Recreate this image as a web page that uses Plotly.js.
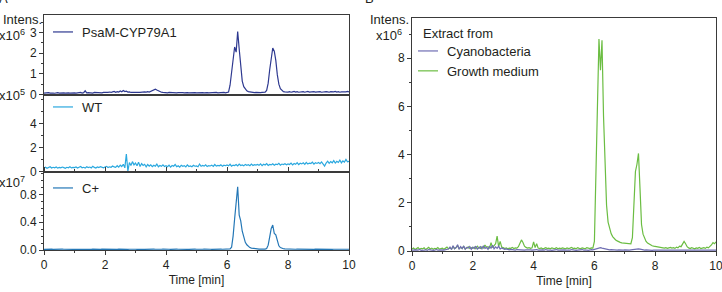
<!DOCTYPE html>
<html>
<head>
<meta charset="utf-8">
<script src="https://cdn.plot.ly/plotly-3.0.1.min.js"></script>
<style>html,body{margin:0;padding:0;background:#fff;}#chart{width:722px;height:292px;}</style>
</head>
<body>
<div id="chart"></div>
<script>
// Retention time [min]
const time = [
0,0.05,0.1,0.15,0.2,0.25,0.3,0.35,0.4,0.45,0.5,0.55,0.6,0.65,0.7,0.75,0.8,0.85,0.9,0.95,
1,1.05,1.1,1.15,1.2,1.25,1.3,1.35,1.4,1.45,1.5,1.55,1.6,1.65,1.7,1.75,1.8,1.85,1.9,1.95,
2,2.05,2.1,2.15,2.2,2.25,2.3,2.35,2.4,2.45,2.5,2.55,2.6,2.65,2.7,2.75,2.8,2.85,2.9,2.95,
3,3.05,3.1,3.15,3.2,3.25,3.3,3.35,3.4,3.45,3.5,3.55,3.6,3.65,3.7,3.75,3.8,3.85,3.9,3.95,
4,4.05,4.1,4.15,4.2,4.25,4.3,4.35,4.4,4.45,4.5,4.55,4.6,4.65,4.7,4.75,4.8,4.85,4.9,4.95,
5,5.05,5.1,5.15,5.2,5.25,5.3,5.35,5.4,5.45,5.5,5.55,5.6,5.65,5.7,5.75,5.8,5.85,5.9,5.95,
6,6.05,6.1,6.15,6.2,6.25,6.3,6.35,6.4,6.45,6.5,6.55,6.6,6.65,6.7,6.75,6.8,6.85,6.9,6.95,
7,7.05,7.1,7.15,7.2,7.25,7.3,7.35,7.4,7.45,7.5,7.55,7.6,7.65,7.7,7.75,7.8,7.85,7.9,7.95,
8,8.05,8.1,8.15,8.2,8.25,8.3,8.35,8.4,8.45,8.5,8.55,8.6,8.65,8.7,8.75,8.8,8.85,8.9,8.95,
9,9.05,9.1,9.15,9.2,9.25,9.3,9.35,9.4,9.45,9.5,9.55,9.6,9.65,9.7,9.75,9.8,9.85,9.9,9.95,
10];

// Panel A, PsaM-CYP79A1 (x10^6)
const psam = [
0.07,0.08,0.06,0.09,0.07,0.08,0.07,0.06,0.08,0.09,0.07,0.08,0.06,0.08,0.07,0.09,0.08,0.07,0.08,0.09,
0.08,0.07,0.09,0.08,0.10,0.07,0.09,0.18,0.08,0.09,0.08,0.09,0.07,0.10,0.09,0.08,0.10,0.09,0.08,0.10,
0.09,0.11,0.10,0.12,0.10,0.13,0.15,0.11,0.14,0.12,0.17,0.13,0.19,0.14,0.16,0.12,0.13,0.10,0.12,0.11,
0.10,0.12,0.11,0.10,0.12,0.11,0.13,0.12,0.14,0.12,0.15,0.18,0.20,0.26,0.22,0.17,0.13,0.11,0.10,0.09,
0.09,0.08,0.10,0.09,0.08,0.10,0.09,0.08,0.09,0.10,0.08,0.09,0.08,0.10,0.09,0.08,0.09,0.10,0.08,0.09,
0.08,0.09,0.10,0.08,0.09,0.08,0.10,0.09,0.08,0.09,0.10,0.08,0.09,0.10,0.08,0.09,0.08,0.09,0.10,0.08,
0.09,0.12,0.45,1.10,1.85,2.30,2.05,3.05,2.20,1.30,0.65,0.38,0.25,0.18,0.14,0.12,0.11,0.10,0.09,0.10,
0.09,0.10,0.09,0.10,0.09,0.11,0.20,0.55,1.20,1.85,2.25,2.10,1.65,0.95,0.50,0.28,0.18,0.14,0.13,0.12,
0.12,0.14,0.11,0.13,0.15,0.12,0.14,0.11,0.13,0.12,0.14,0.11,0.13,0.15,0.12,0.13,0.11,0.14,0.12,0.13,
0.12,0.14,0.11,0.13,0.12,0.14,0.13,0.11,0.14,0.12,0.13,0.15,0.12,0.14,0.11,0.13,0.12,0.14,0.13,0.15,
0.13];

// Panel A, WT (x10^5)
const wt = [
0.30,0.36,0.27,0.33,0.40,0.29,0.35,0.31,0.38,0.28,0.34,0.30,0.37,0.32,0.27,0.35,0.31,0.39,0.30,0.34,
0.32,0.38,0.29,0.36,0.42,0.31,0.35,0.28,0.40,0.33,0.37,0.30,0.44,0.34,0.29,0.38,0.33,0.41,0.35,0.31,
0.37,0.43,0.33,0.39,0.35,0.46,0.38,0.34,0.48,0.36,0.52,0.41,0.60,0.30,1.45,0.02,0.75,0.50,0.82,0.55,
0.70,0.48,0.78,0.42,0.66,0.50,0.60,0.38,0.58,0.45,0.55,0.40,0.52,0.44,0.62,0.39,0.50,0.43,0.55,0.41,
0.48,0.40,0.53,0.37,0.50,0.44,0.58,0.40,0.47,0.36,0.52,0.43,0.49,0.38,0.55,0.42,0.46,0.39,0.51,0.44,
0.47,0.40,0.62,0.43,0.50,0.45,0.56,0.41,0.49,0.46,0.53,0.42,0.58,0.45,0.50,0.47,0.55,0.43,0.52,0.48,
0.55,0.47,0.60,0.44,0.53,0.49,0.58,0.46,0.62,0.50,0.54,0.47,0.59,0.52,0.56,0.48,0.61,0.50,0.57,0.53,
0.58,0.51,0.63,0.49,0.60,0.54,0.66,0.50,0.59,0.55,0.64,0.52,0.61,0.57,0.68,0.53,0.62,0.58,0.65,0.56,
0.63,0.58,0.70,0.55,0.67,0.60,0.74,0.58,0.69,0.63,0.72,0.59,0.76,0.62,0.70,0.66,0.78,0.61,0.73,0.67,
0.75,0.65,0.80,0.63,0.45,0.70,0.86,0.68,0.82,0.72,0.90,0.70,0.85,0.75,0.95,0.72,0.88,0.78,1.00,0.80,
0.85];

// Panel A, C+ (x10^7)
const cplus = [
0.010,0.012,0.009,0.011,0.010,0.013,0.009,0.011,0.010,0.012,0.009,0.010,0.012,0.011,0.009,0.010,0.012,0.010,0.011,0.009,
0.011,0.010,0.012,0.009,0.011,0.013,0.010,0.009,0.012,0.010,0.011,0.009,0.012,0.010,0.011,0.013,0.009,0.010,0.012,0.011,
0.010,0.012,0.011,0.009,0.013,0.010,0.012,0.011,0.009,0.012,0.010,0.013,0.011,0.009,0.012,0.010,0.011,0.013,0.010,0.012,
0.011,0.009,0.012,0.010,0.013,0.011,0.010,0.012,0.009,0.011,0.013,0.010,0.012,0.011,0.009,0.012,0.010,0.011,0.013,0.010,
0.012,0.010,0.011,0.009,0.012,0.011,0.010,0.013,0.011,0.009,0.012,0.010,0.011,0.012,0.010,0.009,0.012,0.011,0.010,0.012,
0.011,0.009,0.012,0.010,0.011,0.013,0.010,0.012,0.009,0.011,0.010,0.012,0.011,0.009,0.013,0.010,0.012,0.011,0.010,0.012,
0.011,0.012,0.015,0.040,0.200,0.450,0.720,0.910,0.500,0.420,0.270,0.170,0.110,0.075,0.050,0.035,0.027,0.022,0.018,0.016,
0.015,0.013,0.014,0.012,0.013,0.012,0.020,0.070,0.190,0.310,0.360,0.240,0.220,0.120,0.060,0.035,0.024,0.018,0.015,0.013,
0.012,0.013,0.011,0.014,0.012,0.011,0.013,0.012,0.010,0.013,0.012,0.011,0.014,0.012,0.011,0.013,0.012,0.010,0.012,0.011,
0.012,0.010,0.013,0.011,0.012,0.010,0.011,0.013,0.012,0.010,0.011,0.012,0.010,0.013,0.011,0.012,0.010,0.011,0.012,0.010,
0.011];

// Panel B, extract from cyanobacteria (x10^6)
const cyano = [
0.04,0.05,0.03,0.05,0.04,0.06,0.03,0.05,0.04,0.05,0.03,0.06,0.04,0.05,0.03,0.04,0.06,0.04,0.05,0.03,
0.05,0.04,0.06,0.05,0.08,0.16,0.06,0.22,0.09,0.14,0.26,0.07,0.18,0.10,0.21,0.08,0.15,0.12,0.19,0.07,
0.16,0.10,0.20,0.08,0.14,0.18,0.09,0.22,0.11,0.15,0.07,0.19,0.12,0.24,0.09,0.17,0.11,0.20,0.08,0.13,
0.10,0.07,0.09,0.06,0.05,0.07,0.05,0.06,0.04,0.06,0.05,0.04,0.06,0.05,0.04,0.05,0.06,0.04,0.05,0.04,
0.05,0.04,0.06,0.04,0.05,0.03,0.05,0.04,0.06,0.04,0.05,0.04,0.03,0.05,0.04,0.06,0.04,0.05,0.03,0.04,
0.05,0.04,0.03,0.05,0.04,0.06,0.04,0.05,0.03,0.04,0.05,0.04,0.06,0.04,0.05,0.04,0.03,0.05,0.06,0.05,
0.07,0.10,0.13,0.15,0.14,0.12,0.10,0.08,0.07,0.06,0.05,0.06,0.05,0.04,0.05,0.04,0.05,0.04,0.05,0.04,
0.05,0.04,0.05,0.04,0.05,0.06,0.07,0.09,0.10,0.09,0.08,0.06,0.05,0.04,0.05,0.04,0.05,0.04,0.03,0.04,
0.04,0.05,0.03,0.04,0.05,0.04,0.03,0.04,0.05,0.04,0.03,0.04,0.05,0.04,0.03,0.04,0.05,0.04,0.03,0.04,
0.04,0.03,0.05,0.04,0.03,0.04,0.05,0.03,0.04,0.05,0.04,0.03,0.04,0.05,0.03,0.04,0.05,0.04,0.03,0.04,
0.04];

// Panel B, extract from growth medium (x10^6)
const medium = [
0.08,0.12,0.06,0.10,0.14,0.07,0.11,0.09,0.13,0.06,0.10,0.15,0.08,0.12,0.07,0.11,0.09,0.14,0.08,0.10,
0.12,0.07,0.11,0.16,0.09,0.13,0.08,0.18,0.10,0.14,0.22,0.09,0.15,0.11,0.19,0.08,0.13,0.17,0.10,0.14,
0.11,0.16,0.09,0.20,0.13,0.10,0.17,0.12,0.25,0.15,0.18,0.11,0.35,0.14,0.22,0.30,0.62,0.18,0.40,0.16,
0.14,0.10,0.13,0.09,0.12,0.11,0.15,0.10,0.13,0.12,0.18,0.30,0.46,0.35,0.20,0.15,0.12,0.14,0.11,0.13,
0.38,0.14,0.30,0.12,0.10,0.13,0.09,0.11,0.14,0.10,0.12,0.09,0.13,0.11,0.10,0.14,0.09,0.12,0.10,0.13,
0.11,0.09,0.13,0.10,0.12,0.15,0.10,0.12,0.09,0.14,0.11,0.10,0.13,0.12,0.09,0.14,0.11,0.10,0.13,0.12,
0.40,3.50,6.90,8.80,7.50,8.75,5.60,3.40,1.90,1.20,0.90,0.72,0.60,0.52,0.46,0.42,0.38,0.36,0.34,0.33,
0.32,0.30,0.29,0.28,0.30,0.55,1.90,3.30,3.60,4.05,2.60,1.10,0.70,0.50,0.40,0.33,0.28,0.25,0.22,0.20,
0.19,0.17,0.15,0.16,0.13,0.15,0.12,0.14,0.11,0.13,0.15,0.12,0.14,0.11,0.16,0.13,0.20,0.18,0.28,0.40,
0.30,0.18,0.13,0.10,0.14,0.12,0.09,0.13,0.11,0.15,0.10,0.12,0.14,0.11,0.16,0.13,0.18,0.25,0.35,0.30,
0.38];

// layout helpers (pixel -> paper fraction)
const W = 722, H = 292;
const px = v => v / W;
const py = v => 1 - v / H;

const FONT = 'Liberation Sans, Arial, sans-serif';
const INK = '#231f20';
const AX = '#3a3a3a';

const data = [
  {x: time, y: psam, xaxis: 'x', yaxis: 'y', type: 'scatter', mode: 'lines', name: 'PsaM-CYP79A1',
   legend: 'legend', line: {color: '#2e3990', width: 1.2}},
  {x: time, y: wt, xaxis: 'x', yaxis: 'y2', type: 'scatter', mode: 'lines', name: 'WT',
   legend: 'legend2', line: {color: '#2aa8df', width: 1.2}},
  {x: time, y: cplus, xaxis: 'x', yaxis: 'y3', type: 'scatter', mode: 'lines', name: 'C+',
   legend: 'legend3', line: {color: '#2477b6', width: 1.2}},
  {x: time, y: medium, xaxis: 'x2', yaxis: 'y4', type: 'scatter', mode: 'lines', name: 'Growth medium',
   legend: 'legend4', legendrank: 2, line: {color: '#6bbd42', width: 1.2}},
  {x: time, y: cyano, xaxis: 'x2', yaxis: 'y4', type: 'scatter', mode: 'lines', name: 'Cyanobacteria',
   legend: 'legend4', legendrank: 1, line: {color: '#6f6db3', width: 1.2}}
];

const yBase = {
  showline: true, mirror: true, linecolor: AX, linewidth: 1, showgrid: false, zeroline: false,
  ticks: 'outside', ticklen: 4, tickcolor: AX, tickfont: {size: 12, color: INK}, fixedrange: true
};
const xBase = {
  range: [0, 10], dtick: 2, tick0: 0, showline: true, linecolor: AX, linewidth: 1,
  showgrid: false, zeroline: false, ticks: 'outside', ticklen: 4, tickcolor: AX,
  tickfont: {size: 12, color: INK}, ticklabeloverflow: 'allow',
  minor: {dtick: 1, ticks: 'outside', ticklen: 2, tickcolor: AX},
  title: {text: 'Time [min]', font: {size: 12, color: INK}, standoff: 4}
};
const legBase = {
  bgcolor: 'rgba(0,0,0,0)', borderwidth: 0, font: {family: FONT, size: 13, color: INK},
  xanchor: 'left', yanchor: 'top', tracegroupgap: 0
};

const layout = {
  width: W, height: H,
  margin: {l: 0, r: 0, t: 0, b: 0},
  paper_bgcolor: '#fff', plot_bgcolor: '#fff',
  font: {family: FONT, size: 12, color: INK},
  showlegend: true,
  xaxis: Object.assign({}, xBase, {domain: [px(44), px(349)], anchor: 'y3', mirror: 'all'}),
  xaxis2: Object.assign({}, xBase, {domain: [px(412), px(716)], anchor: 'y4', mirror: true}),
  yaxis: Object.assign({}, yBase, {domain: [py(94.5), py(15)], anchor: 'x', range: [0, 3.85],
    tickvals: [0, 1, 2, 3], minor: {dtick: 0.5, ticks: 'outside', ticklen: 2, tickcolor: AX}}),
  yaxis2: Object.assign({}, yBase, {domain: [py(171.5), py(94.5)], anchor: 'x', range: [0, 6.4],
    tickvals: [0, 2, 4], minor: {dtick: 1, ticks: 'outside', ticklen: 2, tickcolor: AX}}),
  yaxis3: Object.assign({}, yBase, {domain: [py(250), py(171.5)], anchor: 'x', range: [0, 1.13],
    tickvals: [0, 0.4, 0.8], tickformat: '.1f', minor: {dtick: 0.1, ticks: 'outside', ticklen: 2, tickcolor: AX}}),
  yaxis4: Object.assign({}, yBase, {domain: [py(251), py(18)], anchor: 'x2', range: [0, 9.67],
    tickvals: [0, 2, 4, 6, 8], minor: {dtick: 1, ticks: 'outside', ticklen: 2, tickcolor: AX}}),
  legend: Object.assign({}, legBase, {x: px(42), y: py(17)}),
  legend2: Object.assign({}, legBase, {x: px(42), y: py(92)}),
  legend3: Object.assign({}, legBase, {x: px(42), y: py(173)}),
  legend4: Object.assign({}, legBase, {x: px(407), y: py(36)}),
  annotations: [
    {text: 'A', x: px(-3), y: py(8), xref: 'paper', yref: 'paper', xanchor: 'left', yanchor: 'bottom', showarrow: false, font: {size: 13}},
    {text: 'B', x: px(363), y: py(8), xref: 'paper', yref: 'paper', xanchor: 'left', yanchor: 'bottom', showarrow: false, font: {size: 13}},
    {text: 'Intens.', x: px(44), y: py(19), xref: 'paper', yref: 'paper', xanchor: 'right', yanchor: 'middle', showarrow: false, font: {size: 13}},
    {text: 'x10<sup>6</sup>', x: px(27), y: py(35), xref: 'paper', yref: 'paper', xanchor: 'right', yanchor: 'middle', showarrow: false, font: {size: 13}},
    {text: 'x10<sup>5</sup>', x: px(27), y: py(95), xref: 'paper', yref: 'paper', xanchor: 'right', yanchor: 'middle', showarrow: false, font: {size: 13}},
    {text: 'x10<sup>7</sup>', x: px(27), y: py(182), xref: 'paper', yref: 'paper', xanchor: 'right', yanchor: 'middle', showarrow: false, font: {size: 13}},
    {text: 'Intens.', x: px(411), y: py(19), xref: 'paper', yref: 'paper', xanchor: 'right', yanchor: 'middle', showarrow: false, font: {size: 13}},
    {text: 'x10<sup>6</sup>', x: px(404), y: py(35), xref: 'paper', yref: 'paper', xanchor: 'right', yanchor: 'middle', showarrow: false, font: {size: 13}},
    {text: 'Extract from', x: px(421), y: py(33), xref: 'paper', yref: 'paper', xanchor: 'left', yanchor: 'middle', showarrow: false, font: {size: 13}}
  ]
};

Plotly.newPlot('chart', data, layout, {staticPlot: true, displayModeBar: false}).then(gd => {
  // shorter legend sample lines placed close to their labels, as in the original figure
  gd.querySelectorAll('.legendlines path').forEach(p => p.setAttribute('d', 'M11,0h20'));
});
</script>
</body>
</html>
